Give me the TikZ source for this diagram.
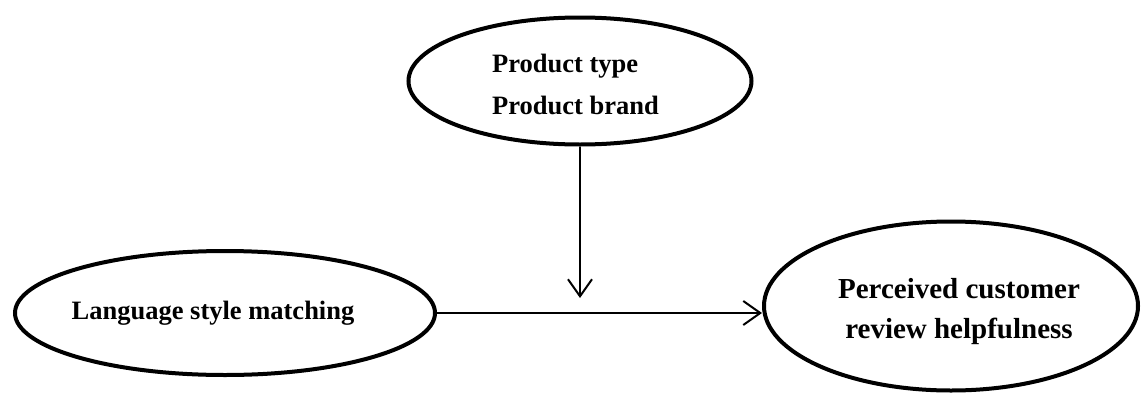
\documentclass[tikz,border=0pt]{standalone}
\usepackage{fontspec}
\setmainfont{Liberation Serif}
\usetikzlibrary{arrows.meta,shapes.geometric}
\begin{document}
\begin{tikzpicture}[x=1pt,y=-1pt,
  oval/.style={draw,ellipse,line width=4pt,inner sep=0pt},
  lbl/.style={font=\bfseries\fontsize{26.5}{42}\selectfont,inner sep=0pt},
  lblbig/.style={font=\bfseries\fontsize{29}{40}\selectfont,inner sep=0pt,align=center},
  conn/.style={line width=2pt,-{Straight Barb[length=17pt,width=24pt,line width=2pt]}}]
\useasboundingbox (0,0) rectangle (1141,394);
\node[oval,minimum width=343pt,minimum height=127pt] (mod) at (580,81) {};
\node[oval,minimum width=420pt,minimum height=124pt] (lsm) at (225,313) {};
\node[oval,minimum width=374pt,minimum height=169pt] (pch) at (951,306) {};
\node[lbl,align=left,anchor=west] (modt) at (492,84) {Product type\\Product brand};
\node[lbl,anchor=center] (lsmt) at (213,313) {Language style matching};
\node[lblbig] (pcht) at (959,312) {Perceived customer\\review helpfulness};
\coordinate (tip) at (580,298);
\draw[conn] (mod.south) -- (tip);
\draw[conn] (lsm.east) -- (lsm.east -| pch.west);
\end{tikzpicture}
\end{document}
